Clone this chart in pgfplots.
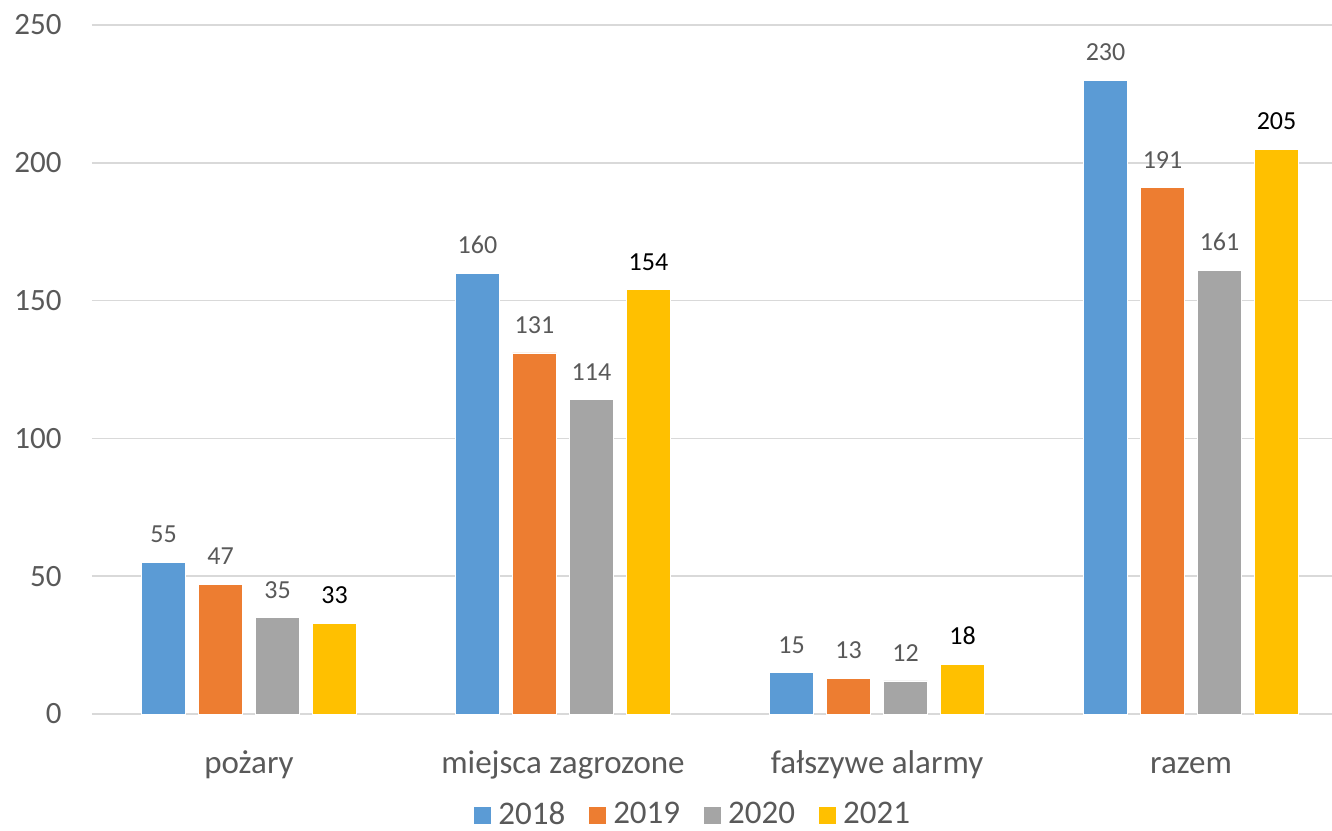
\documentclass[border=0pt]{standalone}
\usepackage{pgfplots}
\pgfplotsset{compat=1.18}
\usepackage{fontspec}
\setmainfont{Carlito}
\definecolor{c18}{HTML}{5B9BD5}
\definecolor{c19}{HTML}{ED7D31}
\definecolor{c20}{HTML}{A5A5A5}
\definecolor{c21}{HTML}{FFC000}
\definecolor{txt}{HTML}{595959}
\definecolor{grd}{HTML}{D9D9D9}
\begin{document}
\begin{tikzpicture}
\begin{axis}[
scale only axis,width=620pt,height=344.5pt,
xmin=-0.5,xmax=3.449,ymin=0,ymax=250,
ybar=6.5pt,bar width=22pt,
xtick={0,1,2,3},
xticklabels={pożary,miejsca zagrozone,fałszywe alarmy,razem},
ytick={0,50,100,150,200,250},
ymajorgrids,grid style={grd,line width=0.9pt},
axis line style={draw=none},tick style={draw=none},
ticklabel style={font=\fontsize{16.5}{20}\selectfont,text=txt,inner sep=0pt},
xticklabel style={anchor=base,yshift=-25.5pt},
yticklabel style={anchor=east,xshift=-15pt,font=\fontsize{15.5}{19}\selectfont},
/pgf/number format/assume math mode=true,
nodes near coords,
every node near coord/.append style={font=\fontsize{13}{15}\selectfont,text=txt,anchor=base,inner sep=0pt,yshift=9.75pt},
legend columns=4,
legend style={draw=none,at={(0.484,-0.146)},anchor=center,font=\fontsize{16.5}{20}\selectfont,text=txt,
  nodes={inner sep=0pt},
  /tikz/every odd column/.append style={column sep=3.5pt},
  /tikz/every even column/.append style={column sep=12pt}},
legend image code/.code={\fill[#1,draw=none] (0pt,-4.5pt) rectangle (8.5pt,4pt);},
]
\addplot[fill=c18,draw=white,line width=0.4pt] coordinates {(0,55) (1,160) (2,15) (3,230)};
\addplot[fill=c19,draw=white,line width=0.4pt] coordinates {(0,47) (1,131) (2,13) (3,191)};
\addplot[fill=c20,draw=white,line width=0.4pt] coordinates {(0,35) (1,114) (2,12) (3,161)};
\addplot[fill=c21,draw=white,line width=0.4pt,every node near coord/.append style={text=black}] coordinates {(0,33) (1,154) (2,18) (3,205)};
\legend{2018,2019,2020,2021}
\coordinate (bl) at (rel axis cs:0,0);
\end{axis}
\pgfresetboundingbox
\path (bl) ++(-46pt,-58pt) rectangle ++(666pt,415pt);
\end{tikzpicture}
\end{document}
